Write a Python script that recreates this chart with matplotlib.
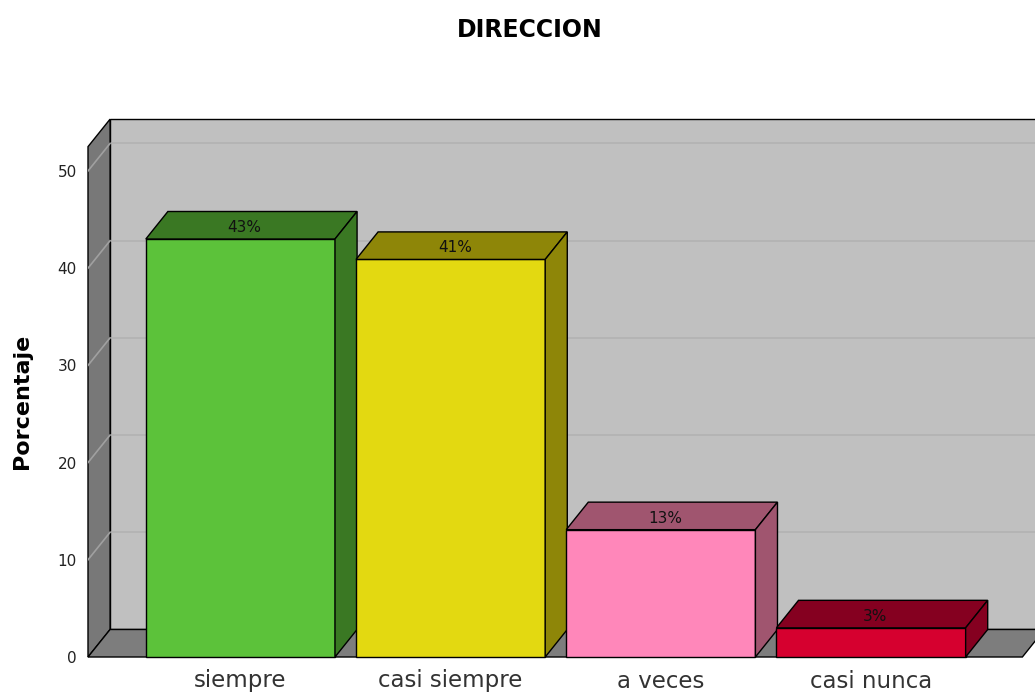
import matplotlib
matplotlib.use("Agg")
import matplotlib.pyplot as plt
from matplotlib.patches import Polygon

# datos del gráfico
categorias = ["siempre", "casi siempre", "a veces", "casi nunca"]
porcentajes = [43.0, 40.9, 13.1, 3.0]
etiquetas = ["43%", "41%", "13%", "3%"]
colores_frente = ["#5cc23a", "#e3d911", "#ff87ba", "#d6002f"]
colores_lado = ["#3a7823", "#8e8608", "#a0556f", "#850020"]
yticks = [0, 10, 20, 30, 40, 50]

# geometría de la pseudo-perspectiva
dx, dy = 0.105, 2.83      # profundidad
ancho = 0.9
tope_pared = 52.5
x_izq, x_der = -0.725, 3.78

fig = plt.figure(figsize=(10.35, 6.93), dpi=100)
ax = fig.add_axes([88 / 1035, 36 / 693, 947 / 1035, 557 / 693])
ax.set_xlim(x_izq, x_der)
ax.set_ylim(0, 57.3)

def poli(pts, color, z, lw=1.0, ec="black"):
    ax.add_patch(Polygon(pts, closed=True, facecolor=color, edgecolor=ec,
                         linewidth=lw, zorder=z, joinstyle="miter",
                         clip_on=False))

# pared del fondo
poli([(x_izq + dx, dy), (x_der + 0.2, dy), (x_der + 0.2, tope_pared + dy),
      (x_izq + dx, tope_pared + dy)], "#c0c0c0", 1)
# líneas de la cuadrícula
for t in yticks[1:]:
    ax.plot([x_izq + dx, x_der], [t + dy, t + dy], color="#b2b2b2",
            lw=1.2, zorder=2)
# pared izquierda
poli([(x_izq, 0), (x_izq, tope_pared), (x_izq + dx, tope_pared + dy),
      (x_izq + dx, dy)], "#787878", 3)
for t in yticks[1:]:
    ax.plot([x_izq, x_izq + dx], [t, t + dy], color="#a0a0a0", lw=1.2, zorder=4)
# piso
poli([(x_izq, 0), (3.72, 0), (3.72 + dx, dy), (x_izq + dx, dy)], "#7d7d7d", 5)

# barras
for i, v in enumerate(porcentajes):
    x0, x1 = i - ancho / 2, i + ancho / 2
    poli([(x0, 0), (x1, 0), (x1, v), (x0, v)], colores_frente[i], 6)
    poli([(x0, v), (x1, v), (x1 + dx, v + dy), (x0 + dx, v + dy)],
         colores_lado[i], 6)
    poli([(x1, 0), (x1 + dx, dy), (x1 + dx, v + dy), (x1, v)],
         colores_lado[i], 6)
    ax.text(i + 0.02, v + dy * 0.42, etiquetas[i], ha="center", va="center",
            fontsize=11, color="#111111", zorder=7)

for s in ax.spines.values():
    s.set_visible(False)
ax.set_yticks(yticks)
ax.set_yticklabels([str(t) for t in yticks], fontsize=11, color="#222222")
ax.set_xticks(range(len(categorias)))
ax.set_xticklabels(categorias, fontsize=16.5, color="#333333")
ax.tick_params(axis="y", length=0, pad=8)
ax.tick_params(axis="x", length=0, pad=9)

fig.text(0.512, 1 - 30 / 693, "DIRECCION", ha="center", va="center",
         fontsize=17, fontweight="bold")
fig.text(22 / 1035, 1 - 401 / 693, "Porcentaje", ha="center", va="center",
         rotation=90, fontsize=16, fontweight="bold")

fig.savefig("out.png", dpi=100)
